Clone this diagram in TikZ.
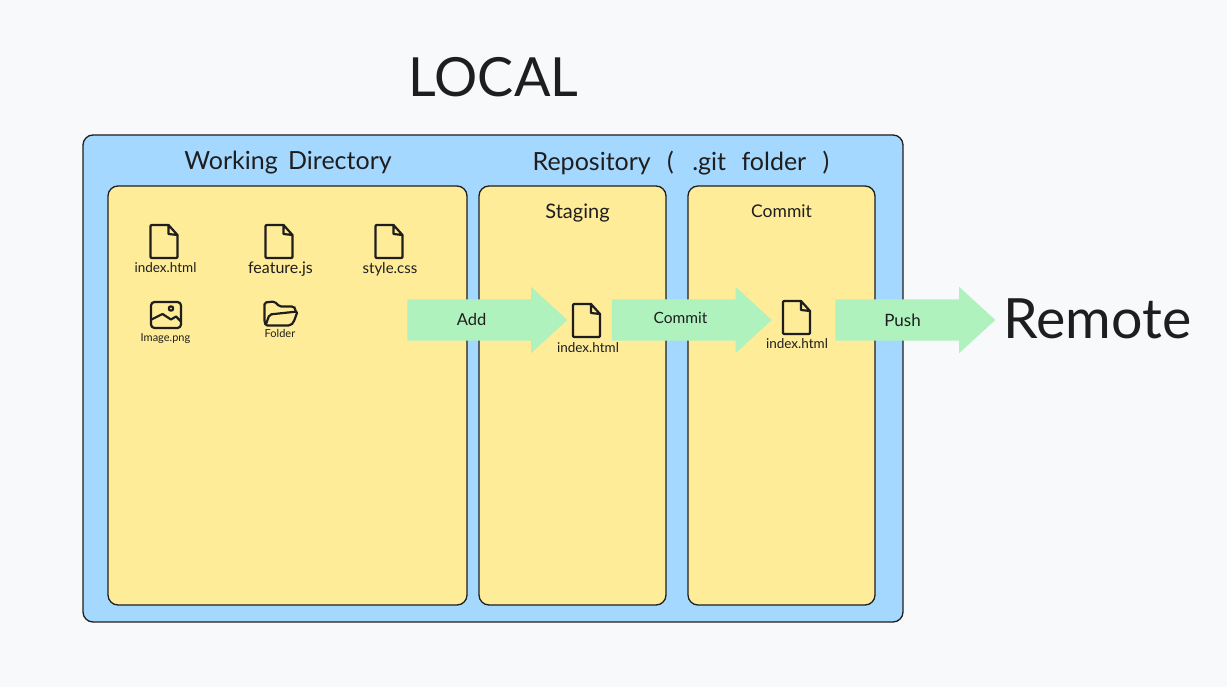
\documentclass[tikz,border=0pt]{standalone}
\usepackage{fontspec}
\setmainfont{Lato}
\usetikzlibrary{shapes.arrows}
\definecolor{pagebg}{HTML}{F8F9FB}
\definecolor{inkc}{HTML}{1E1E1E}
\definecolor{bluep}{HTML}{A5D8FF}
\definecolor{yellowp}{HTML}{FFEC99}
\definecolor{greena}{HTML}{B0F2BD}
\newcommand{\fs}[1]{\fontsize{#1}{#1}\selectfont}
\tikzset{
  x=1pt,y=-1pt,
  panel/.style={draw=inkc,line width=1.3pt,rounded corners=10pt,anchor=north west,inner sep=0pt,outer sep=0pt},
  outerpanel/.style={panel,fill=bluep},
  innerpanel/.style={panel,fill=yellowp},
  flow/.style={single arrow,fill=greena,inner xsep=0pt,inner ysep=20.5pt,outer sep=0pt,minimum height=160pt,
    single arrow head extend=12.5pt,single arrow tip angle=85,single arrow head indent=0pt},
  txt/.style={inkc,inner sep=0pt,anchor=center},
  hand/.style={draw=inkc,line width=2.2pt,line join=round,line cap=round,fill=none},
  fileicon/.pic={
    \draw[hand] (18,0) -- (1,0) -- (0,1) -- (0,32) -- (1,33) -- (26,33) -- (27,32) -- (27,10) -- (18,0) -- (18,9) -- (27,10);
  },
  imageicon/.pic={
    \draw[hand,rounded corners=3.5pt] (0,0) rectangle (30,26);
    \draw[hand] (20,6.5) circle (2.2);
    \draw[hand] (0.5,17.5) -- (11.5,12) -- (20,17.5) -- (25,14.5) -- (29.5,19);
  },
  foldericon/.pic={
    \draw[hand,rounded corners=1.8pt] (1,23) -- (0,21) -- (0,1) -- (10,0) -- (15,5) -- (29,5) -- (31,7) -- (31,10);
    \draw[hand,rounded corners=2pt] (1,24) -- (5,13) -- (33,10) -- (29,21) -- (26,24) -- cycle;
  },
}
\begin{document}
\begin{tikzpicture}
\useasboundingbox (0,0) rectangle (1227,687);
\fill[pagebg] (0,0) rectangle (1227,687);
% panels
\node[outerpanel,minimum width=820pt,minimum height=487pt] (outer) at (83,135) {};
\node[innerpanel,minimum width=359pt,minimum height=419pt] (work) at (108,186) {};
\node[innerpanel,minimum width=187pt,minimum height=419pt] (stage) at (479,186) {};
\node[innerpanel,minimum width=187pt,minimum height=419pt] (commitp) at (688,186) {};
% arrows
\node[flow] (addarrow) at (476,320) {};
\node[flow] (commitarrow) at (680.5,320) {};
\node[flow] (pusharrow) at (904,320) {};
% icons
\pic at (150.5,225) {fileicon};
\pic at (265.5,225) {fileicon};
\pic at (375.5,225) {fileicon};
\pic at (573,304) {fileicon};
\pic at (783,301) {fileicon};
\pic at (151,302) {imageicon};
\pic at (264.5,301.5) {foldericon};
% titles
\node[txt,font=\fs{54}] (local) at (493.5,77) {LOCAL};
\node[txt,font=\fs{55.5}] (remote) at (1097.5,319) {Remote};
\node[txt,font=\fs{25}] (workt) at (288,163) {Working\hspace{4pt} Directory};
\node[txt,font=\fs{25}] (repot) at (681,163) {Repository\hspace{10pt} (\hspace{12pt} .git\hspace{9pt} folder\hspace{10pt} )};
\node[txt,font=\fs{20}] (staget) at (577.5,213) {Staging};
\node[txt,font=\fs{17.5}] (committ) at (781.5,211) {Commit};
% file labels
\node[txt,font=\fs{13.5}] (f1) at (165.5,268) {index.html};
\node[txt,font=\fs{16}] (f2) at (280.5,269) {feature.js};
\node[txt,font=\fs{15}] (f3) at (390,269) {style.css};
\node[txt,font=\fs{11}] (f4) at (165.5,339) {Image.png};
\node[txt,font=\fs{11}] (f5) at (280,333) {Folder};
\node[txt,font=\fs{13.5}] (f6) at (588,348) {index.html};
\node[txt,font=\fs{13.5}] (f7) at (797,344) {index.html};
% arrow labels
\node[txt,font=\fs{16.5}] (addl) at (471.5,319) {Add};
\node[txt,font=\fs{15.5}] (commitl) at (680.5,318) {Commit};
\node[txt,font=\fs{17}] (pushl) at (902.5,320) {Push};
\end{tikzpicture}
\end{document}
